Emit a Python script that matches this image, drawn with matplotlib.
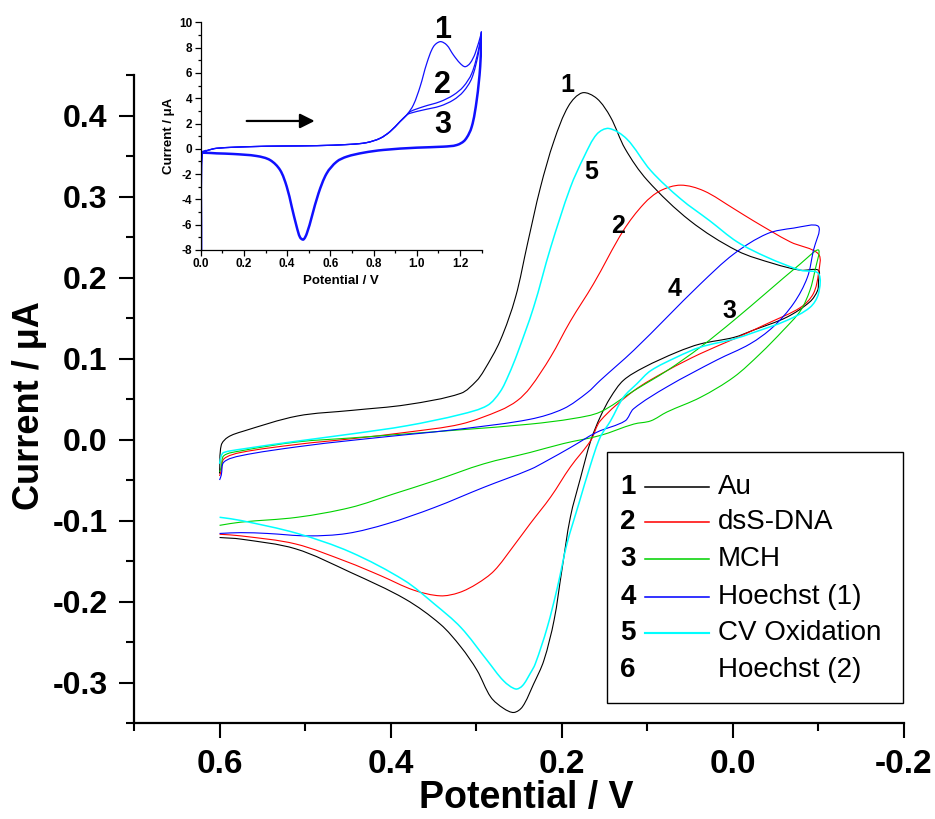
import numpy as np
import matplotlib
matplotlib.use('Agg')
import matplotlib.pyplot as plt
from matplotlib import font_manager
from matplotlib.lines import Line2D
from matplotlib.patches import Rectangle, PathPatch
from matplotlib.path import Path
from matplotlib.ticker import FixedLocator

plt.rcParams['axes.unicode_minus'] = False

# ---- main CV data (potential / V, current / uA), path order 0.6 -> -0.1 -> 0.6
au_x = [0.600, 0.598, 0.590, 0.573, 0.509, 0.445, 0.381, 0.318, 0.300, 0.291, 0.272, 0.254, 0.240, 0.225,
        0.209, 0.192, 0.176, 0.159, 0.143, 0.126, 0.100, 0.050, -0.005, -0.048, -0.079, -0.100,
        -0.100, -0.099, -0.090, -0.063, -0.024, -0.001, 0.038, 0.065, 0.104, 0.128, 0.143, 0.155, 0.166,
        0.178, 0.190, 0.200, 0.209, 0.221, 0.233, 0.246, 0.256, 0.268, 0.283, 0.299, 0.318, 0.342, 0.383,
        0.447, 0.511, 0.575, 0.600]
au_y = [-0.042, -0.007, 0.003, 0.010, 0.029, 0.036, 0.043, 0.057, 0.072, 0.085, 0.122, 0.176, 0.242, 0.311,
        0.369, 0.412, 0.428, 0.421, 0.398, 0.359, 0.320, 0.270, 0.233, 0.217, 0.209, 0.209,
        0.195, 0.184, 0.170, 0.151, 0.135, 0.126, 0.118, 0.108, 0.089, 0.073, 0.052, 0.028, -0.001,
        -0.047, -0.096, -0.162, -0.223, -0.273, -0.302, -0.330, -0.337, -0.332, -0.318, -0.285, -0.256, -0.228, -0.197,
        -0.164, -0.135, -0.123, -0.121]

dna_x = [0.600, 0.598, 0.595, 0.575, 0.509, 0.445, 0.381, 0.318, 0.272, 0.252, 0.237, 0.213, 0.190, 0.163,
         0.128, 0.104, 0.085, 0.061, 0.034, -0.001, -0.024, -0.067, -0.100,
         -0.100, -0.094, -0.079, -0.040, -0.001, 0.038, 0.077, 0.116, 0.155, 0.166, 0.190, 0.213, 0.237,
         0.256, 0.279, 0.299, 0.320, 0.342, 0.373, 0.412, 0.451, 0.511, 0.575, 0.600]
dna_y = [-0.045, -0.038, -0.024, -0.016, -0.006, 0.001, 0.009, 0.019, 0.036, 0.048, 0.064, 0.102, 0.146, 0.192,
         0.258, 0.291, 0.307, 0.314, 0.307, 0.285, 0.270, 0.244, 0.229,
         0.205, 0.180, 0.163, 0.143, 0.124, 0.106, 0.085, 0.060, 0.023, -0.001, -0.034, -0.071, -0.104,
         -0.131, -0.162, -0.178, -0.189, -0.193, -0.186, -0.168, -0.151, -0.129, -0.119, -0.117]

mch_x = [0.600, 0.598, 0.595, 0.575, 0.509, 0.445, 0.381, 0.318, 0.237, 0.186, 0.155, 0.116, 0.077, 0.038,
         -0.001, -0.040, -0.079, -0.100,
         -0.096, -0.090, -0.079, -0.059, -0.032, -0.001, 0.038, 0.077, 0.096, 0.116, 0.155, 0.198, 0.237,
         0.291, 0.349, 0.396, 0.447, 0.509, 0.575, 0.600]
mch_y = [-0.040, -0.034, -0.020, -0.014, -0.003, 0.002, 0.007, 0.012, 0.019, 0.026, 0.034, 0.060, 0.085, 0.114,
         0.147, 0.182, 0.217, 0.234,
         0.209, 0.184, 0.159, 0.135, 0.106, 0.077, 0.052, 0.034, 0.023, 0.019, 0.005, -0.005, -0.016,
         -0.030, -0.051, -0.067, -0.084, -0.096, -0.102, -0.106]

hoe_x = [0.600, 0.598, 0.595, 0.575, 0.509, 0.445, 0.381, 0.318, 0.237, 0.198, 0.170, 0.155, 0.116, 0.077,
         0.038, -0.001, -0.040, -0.071, -0.100,
         -0.094, -0.087, -0.071, -0.047, -0.020, 0.019, 0.077, 0.116, 0.126, 0.159, 0.190, 0.217, 0.237,
         0.291, 0.349, 0.404, 0.451, 0.497, 0.544, 0.575, 0.600]
hoe_y = [-0.050, -0.044, -0.028, -0.020, -0.009, -0.001, 0.006, 0.013, 0.025, 0.038, 0.058, 0.073, 0.110, 0.151,
         0.192, 0.229, 0.254, 0.261, 0.263,
         0.233, 0.200, 0.168, 0.139, 0.118, 0.098, 0.065, 0.038, 0.023, 0.009, -0.010, -0.026, -0.037,
         -0.059, -0.084, -0.104, -0.116, -0.119, -0.116, -0.115, -0.116]

cvox_x = [0.600, 0.598, 0.595, 0.575, 0.509, 0.445, 0.381, 0.318, 0.287, 0.272, 0.262, 0.252, 0.233, 0.213,
          0.190, 0.174, 0.159, 0.145, 0.124, 0.096, 0.061, 0.027, -0.005, -0.040, -0.079, -0.100,
          -0.100, -0.090, -0.063, -0.024, -0.001, 0.038, 0.065, 0.096, 0.112, 0.128, 0.143, 0.155, 0.166,
          0.180, 0.194, 0.205, 0.217, 0.231, 0.237, 0.246, 0.254, 0.268, 0.287, 0.318, 0.349, 0.384,
          0.447, 0.509, 0.575, 0.600]
cvox_y = [-0.030, -0.020, -0.016, -0.012, -0.002, 0.007, 0.017, 0.031, 0.042, 0.059, 0.080, 0.106, 0.163, 0.237,
          0.311, 0.349, 0.377, 0.384, 0.371, 0.332, 0.297, 0.270, 0.244, 0.225, 0.209, 0.205,
          0.180, 0.163, 0.147, 0.132, 0.124, 0.114, 0.102, 0.085, 0.069, 0.052, 0.023, 0.003, -0.030,
          -0.079, -0.129, -0.182, -0.232, -0.277, -0.289, -0.304, -0.308, -0.298, -0.273, -0.232, -0.203, -0.174,
          -0.139, -0.116, -0.100, -0.096]

labels = ['Au', 'dsS-DNA', 'MCH', 'Hoechst (1)', 'CV Oxidation', 'Hoechst (2)']
colors = ['#000000', '#ff0000', '#00d200', '#0000ff', '#00ffff', None]
widths = [0.8, 0.8, 0.8, 0.8, 1.1, 0]

# curve number labels (x, y)
tag_names = ['1', '5', '2', '4', '3']
tag_x = [0.193, 0.165, 0.134, 0.068, 0.004]
tag_y = [0.438, 0.330, 0.263, 0.186, 0.159]

# ---- inset data (potential / V, current / uA)
in_fwd_x = [0.002, 0.005, 0.028, 0.074, 0.228, 0.383, 0.537, 0.691, 0.768, 0.830, 0.876, 0.922, 0.953]
in_fwd_y = [-8.0, -0.36, -0.15, 0.04, 0.17, 0.22, 0.25, 0.35, 0.49, 0.83, 1.36, 2.15, 2.67]
in_c1_x = [0.984, 1.015, 1.046, 1.077, 1.108, 1.138, 1.169, 1.200, 1.223, 1.246, 1.270, 1.300]
in_c1_y = [3.47, 4.91, 6.76, 8.08, 8.47, 8.21, 7.42, 6.76, 6.49, 6.76, 7.55, 9.26]
in_c2_x = [0.969, 1.030, 1.108, 1.169, 1.215, 1.254, 1.285, 1.300]
in_c2_y = [2.94, 3.33, 3.73, 4.25, 4.91, 5.96, 7.81, 9.26]
in_c3_x = [0.969, 1.030, 1.108, 1.169, 1.215, 1.254, 1.285, 1.300]
in_c3_y = [2.81, 3.07, 3.38, 3.86, 4.52, 5.57, 7.55, 9.26]
in_rev_x = [1.300, 1.293, 1.277, 1.254, 1.223, 1.185, 1.123, 1.000, 0.845, 0.753, 0.676, 0.629, 0.583, 0.545,
            0.514, 0.491, 0.475, 0.460, 0.444, 0.421, 0.398, 0.367, 0.321, 0.259, 0.151, 0.074, 0.012, 0.005]
in_rev_y = [9.26, 6.49, 3.86, 1.75, 0.70, 0.30, 0.17, 0.09, -0.09, -0.31, -0.62, -1.02, -1.94, -3.52,
            -5.37, -6.69, -7.17, -7.01, -6.16, -4.57, -2.99, -1.67, -0.89, -0.57, -0.41, -0.36, -0.31, -0.36]


def pick_font(name, fallback):
    try:
        font_manager.findfont(font_manager.FontProperties(family=name), fallback_to_default=False)
        return name
    except ValueError:
        return fallback


SANS = pick_font('Liberation Sans', 'DejaVu Sans')

W, H = 935, 819


def fx(px):
    return px / W


def fy(py):
    return 1 - py / H


def smooth_path(xs, ys, sx, sy):
    # draw the measured points as a smooth cubic path (chord-scaled Hermite tangents)
    P = np.column_stack([np.asarray(xs) * sx, np.asarray(ys) * sy])
    n = len(P)
    d = np.maximum(np.linalg.norm(np.diff(P, axis=0), axis=1), 1e-9)
    T = np.zeros_like(P)
    T[0] = (P[1] - P[0]) / d[0]
    T[-1] = (P[-1] - P[-2]) / d[-1]
    for i in range(1, n - 1):
        T[i] = (P[i + 1] - P[i - 1]) / (d[i - 1] + d[i])
    verts = [P[0]]
    codes = [Path.MOVETO]
    for i in range(n - 1):
        verts += [P[i] + T[i] * d[i] / 3, P[i + 1] - T[i + 1] * d[i] / 3, P[i + 1]]
        codes += [Path.CURVE4] * 3
    verts = np.array(verts) / [sx, sy]
    return Path(verts, codes)


fig = plt.figure(figsize=(W / 100, H / 100), dpi=100)
ax = fig.add_axes([fx(134), fy(723), (904 - 134) / W, (723 - 75) / H])

series = [(au_x, au_y), (dna_x, dna_y), (mch_x, mch_y), (hoe_x, hoe_y), (cvox_x, cvox_y)]
for (xs, ys), c, lw in zip(series, colors, widths):
    ax.add_patch(PathPatch(smooth_path(xs, ys, 856, 810), fill=False, edgecolor=c, lw=lw))

ax.set_xlim(0.7, -0.2)
ax.set_ylim(-0.35, 0.45)
for s in ['top', 'right']:
    ax.spines[s].set_visible(False)
for s in ['left', 'bottom']:
    ax.spines[s].set_linewidth(1.6)

ax.xaxis.set_major_locator(FixedLocator([0.6, 0.4, 0.2, 0.0, -0.2]))
ax.xaxis.set_minor_locator(FixedLocator([0.7, 0.5, 0.3, 0.1, -0.1]))
ax.yaxis.set_major_locator(FixedLocator(np.round(np.arange(-0.3, 0.41, 0.1), 2)))
ax.yaxis.set_minor_locator(FixedLocator(np.round(np.arange(-0.35, 0.46, 0.1), 2)))
ax.set_xticklabels(['0.6', '0.4', '0.2', '0.0', '-0.2'])
ax.set_yticklabels(['%.1f' % v for v in np.round(np.arange(-0.3, 0.41, 0.1), 2)])
ax.tick_params(which='major', direction='out', length=11, width=1.5)
ax.tick_params(which='minor', direction='out', length=6, width=1.5)
ax.tick_params(axis='y', pad=8)
ax.tick_params(axis='x', pad=8)

for t in ax.get_yticklabels():
    t.set_fontfamily(SANS)
    t.set_fontweight('bold')
    t.set_fontsize(23)
for t in ax.get_xticklabels():
    t.set_fontfamily(SANS)
    t.set_fontweight('bold')
    t.set_fontsize(24)

ax.set_ylabel('Current / μA', fontfamily=SANS, fontweight='bold', fontsize=26)
ax.yaxis.set_label_coords(-0.113, 0.49)
ax.set_xlabel('Potential / V', fontfamily=SANS, fontweight='bold', fontsize=27)
ax.xaxis.set_label_coords(0.509, -0.088)

for name, x, y in zip(tag_names, tag_x, tag_y):
    ax.text(x, y, name, fontfamily=SANS, fontweight='bold', fontsize=18, ha='center', va='center')

# legend drawn by hand: bold number, line sample, label
fig.patches.append(Rectangle((fx(606.5), fy(703)), (903 - 606.5) / W, (703 - 451.5) / H,
                             transform=fig.transFigure, fill=True, facecolor='white',
                             edgecolor='black', lw=1.0, zorder=5))
rows = [486.7, 521.7, 559.0, 596.7, 633.3, 670.0]
for i, (lab, c, lw, ry) in enumerate(zip(labels, colors, widths, rows)):
    fig.text(fx(628), fy(ry), str(i + 1), fontfamily=SANS, fontweight='bold', fontsize=20,
             ha='center', va='center', zorder=6)
    if c is not None:
        fig.add_artist(Line2D([fx(645), fx(709)], [fy(ry), fy(ry)], color=c, lw=lw * 1.4,
                              transform=fig.transFigure, zorder=6))
    fig.text(fx(718), fy(ry), lab, fontfamily=SANS, fontsize=20, ha='left', va='center', zorder=6)

# ---- inset
axi = fig.add_axes([fx(200.7), fy(250), 281 / W, 227.7 / H])
inset_blue = '#1010ff'
for tx, ty in [(in_c1_x, in_c1_y), (in_c2_x, in_c2_y), (in_c3_x, in_c3_y)]:
    axi.add_patch(PathPatch(smooth_path(in_fwd_x + tx, in_fwd_y + ty, 216, 12.65),
                            fill=False, edgecolor=inset_blue, lw=0.9))
axi.add_patch(PathPatch(smooth_path(in_rev_x, in_rev_y, 216, 12.65),
                        fill=False, edgecolor=inset_blue, lw=1.8))
axi.add_patch(PathPatch(smooth_path(in_fwd_x[:3], in_fwd_y[:3], 216, 12.65),
                        fill=False, edgecolor=inset_blue, lw=1.8))

axi.set_xlim(0, 1.3)
axi.set_ylim(-8, 10)
for s in ['top', 'right']:
    axi.spines[s].set_visible(False)
for s in ['left', 'bottom']:
    axi.spines[s].set_linewidth(0.9)
axi.xaxis.set_major_locator(FixedLocator(np.round(np.arange(0, 1.21, 0.2), 1)))
axi.xaxis.set_minor_locator(FixedLocator(np.round(np.arange(0.1, 1.31, 0.2), 1)))
axi.yaxis.set_major_locator(FixedLocator(np.arange(-8, 11, 2)))
axi.yaxis.set_minor_locator(FixedLocator(np.arange(-7, 10, 2)))
axi.set_xticklabels(['%.1f' % v for v in np.round(np.arange(0, 1.21, 0.2), 1)])
axi.set_yticklabels(['%d' % v for v in np.arange(-8, 11, 2)])
axi.tick_params(which='major', direction='out', length=4, width=0.9, pad=2)
axi.tick_params(which='minor', direction='out', length=2, width=0.9)
for t in axi.get_xticklabels() + axi.get_yticklabels():
    t.set_fontfamily(SANS)
    t.set_fontweight('bold')
    t.set_fontsize(8.5)
axi.set_xlabel('Potential / V', fontfamily=SANS, fontweight='bold', fontsize=9.5, labelpad=3)
axi.set_ylabel('Current / μA', fontfamily=SANS, fontweight='bold', fontsize=9.5, labelpad=3)

axi.annotate('', xy=(0.54, 2.2), xytext=(0.2, 2.2),
             arrowprops=dict(arrowstyle='-|>', lw=1.6, mutation_scale=22, color='black'))
for name, y in zip(['1', '2', '3'], [9.4, 5.05, 1.9]):
    axi.text(1.12, y, name, fontfamily=SANS, fontweight='bold', fontsize=22, ha='center', va='center')

fig.savefig('out.png', dpi=100)
